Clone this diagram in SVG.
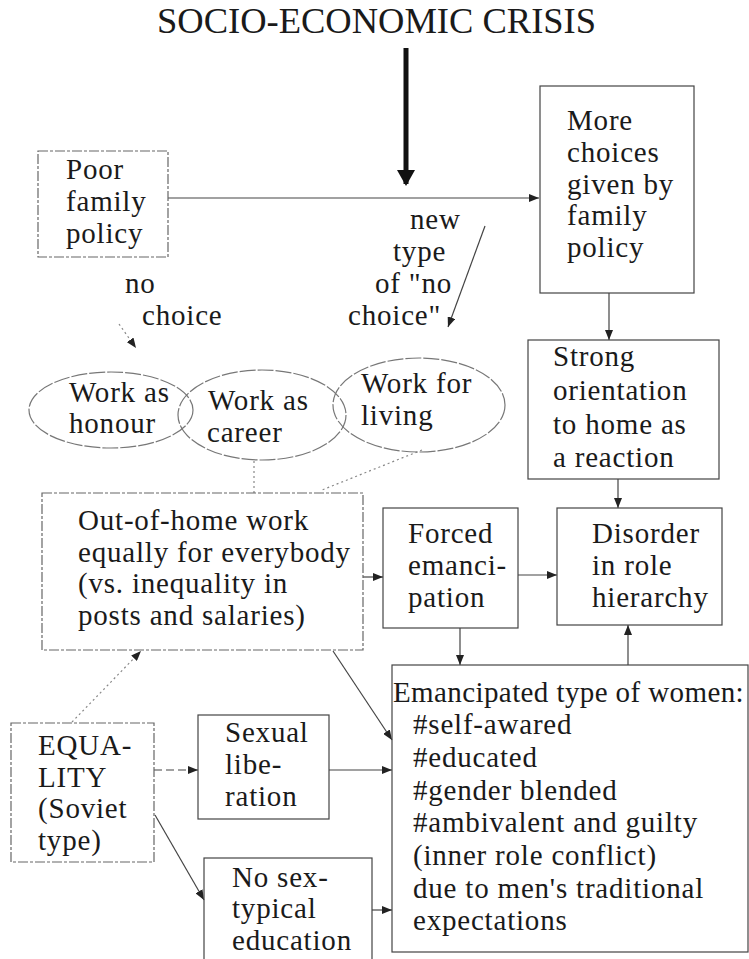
<svg xmlns="http://www.w3.org/2000/svg" width="749" height="959" viewBox="0 0 749 959">
<style>
text{font-family:"Liberation Serif","Times New Roman",serif;font-size:29px;letter-spacing:0.8px;fill:#1a1a1a}
.title{font-size:36.5px;letter-spacing:0}
.tight{letter-spacing:0.4px}
.box{fill:none;stroke:#444;stroke-width:1.2}
.dbox{fill:none;stroke:#666;stroke-width:1.2;stroke-dasharray:10 2 3 2}
.ell{fill:none;stroke:#777;stroke-width:1.2;stroke-dasharray:16 2}
.c{fill:none;stroke:#444;stroke-width:1.2}
.dc{fill:none;stroke:#888;stroke-width:1.2;stroke-dasharray:2 3}
.thick{fill:none;stroke:#111;stroke-width:5}
</style>
<defs>
<marker id="ah" markerUnits="userSpaceOnUse" markerWidth="10" markerHeight="8" refX="10" refY="4" orient="auto">
<path d="M0,0 L10,4 L0,8 z" fill="#222"/>
</marker>
<marker id="ahb" markerUnits="userSpaceOnUse" markerWidth="16" markerHeight="18" refX="14" refY="9" orient="auto">
<path d="M0,0 L16,9 L0,18 z" fill="#111"/>
</marker>
</defs>

<text class="title" x="157" y="33">SOCIO-ECONOMIC CRISIS</text>

<g id="connectors">
<line class="thick" x1="406" y1="48" x2="406" y2="184" marker-end="url(#ahb)"/>
<line class="c" x1="168" y1="198" x2="539" y2="198" marker-end="url(#ah)"/>
<line class="c" x1="485" y1="226" x2="448" y2="327" marker-end="url(#ah)"/>
<line class="dc" x1="119" y1="324" x2="136" y2="348" marker-end="url(#ah)"/>
<line class="c" x1="609" y1="293" x2="609" y2="340" marker-end="url(#ah)"/>
<line class="c" x1="618" y1="479" x2="618" y2="508" marker-end="url(#ah)"/>
<line class="c" x1="518" y1="575" x2="557" y2="575" marker-end="url(#ah)"/>
<line class="c" x1="363" y1="577" x2="383" y2="577" marker-end="url(#ah)"/>
<line class="c" x1="460" y1="628" x2="460" y2="665" marker-end="url(#ah)"/>
<line class="c" x1="628" y1="665" x2="628" y2="625" marker-end="url(#ah)"/>
<line class="c" x1="333" y1="651" x2="392" y2="740" marker-end="url(#ah)"/>
<line class="dc" x1="72" y1="722" x2="141" y2="651" marker-end="url(#ah)"/>
<line class="c" x1="154" y1="770" x2="198" y2="770" stroke-dasharray="8 4" marker-end="url(#ah)"/>
<line class="c" x1="329" y1="770" x2="392" y2="770" marker-end="url(#ah)"/>
<line class="c" x1="155" y1="815" x2="204" y2="900" marker-end="url(#ah)"/>
<line class="c" x1="372" y1="910" x2="392" y2="910" marker-end="url(#ah)"/>
<line class="dc" x1="254" y1="461" x2="254" y2="493"/>
<line class="dc" x1="422" y1="450" x2="322" y2="490"/>
</g>

<g id="poor">
<rect class="dbox" x="38" y="151" width="130" height="106"/>
<text x="66" y="179">Poor</text>
<text x="66" y="211">family</text>
<text x="66" y="243">policy</text>
</g>

<g id="label-new">
<text x="410" y="229">new</text>
<text x="393" y="261">type</text>
<text x="375" y="293">of "no</text>
<text x="348" y="325">choice"</text>
</g>

<g id="label-no">
<text x="125" y="293">no</text>
<text x="142" y="325">choice</text>
</g>

<g id="more">
<rect class="box" x="540" y="86" width="154" height="207"/>
<text x="567" y="130">More</text>
<text x="567" y="162">choices</text>
<text x="567" y="194">given by</text>
<text x="567" y="225">family</text>
<text x="567" y="257">policy</text>
</g>

<g id="honour">
<ellipse class="ell" cx="111" cy="410" rx="82" ry="38"/>
<text x="69" y="402">Work as</text>
<text x="69" y="433">honour</text>
</g>
<g id="career">
<ellipse class="ell" cx="262" cy="415" rx="84" ry="45"/>
<text x="208" y="410">Work as</text>
<text x="207" y="442">career</text>
</g>
<g id="living">
<ellipse class="ell" cx="419" cy="405" rx="86" ry="47"/>
<text x="361" y="393">Work for</text>
<text x="361" y="425">living</text>
</g>

<g id="strong">
<rect class="box" x="528" y="340" width="191" height="139"/>
<text x="553" y="366">Strong</text>
<text x="553" y="400">orientation</text>
<text x="553" y="434">to home as</text>
<text x="553" y="467">a reaction</text>
</g>

<g id="out">
<rect class="dbox" x="42" y="493" width="321" height="157"/>
<text x="78" y="530">Out-of-home work</text>
<text x="78" y="562">equally for everybody</text>
<text x="78" y="593">(vs. inequality in</text>
<text x="78" y="625">posts and salaries)</text>
</g>

<g id="forced">
<rect class="box" x="383" y="508" width="135" height="120"/>
<text x="408" y="543">Forced</text>
<text x="408" y="575">emanci-</text>
<text x="408" y="607">pation</text>
</g>

<g id="disorder">
<rect class="box" x="557" y="508" width="165" height="117"/>
<text x="592" y="543">Disorder</text>
<text x="592" y="575">in role</text>
<text x="592" y="607">hierarchy</text>
</g>

<g id="emancipated">
<rect class="box" x="392" y="665" width="356" height="287"/>
<text class="tight" x="393" y="702">Emancipated type of women:</text>
<text x="413" y="734">#self-awared</text>
<text x="413" y="767">#educated</text>
<text x="413" y="800">#gender blended</text>
<text x="413" y="832">#ambivalent and guilty</text>
<text x="413" y="865">(inner role conflict)</text>
<text x="413" y="898">due to men's traditional</text>
<text x="413" y="930">expectations</text>
</g>

<g id="equality">
<rect class="dbox" x="11" y="723" width="143" height="139"/>
<text x="38" y="755">EQUA-</text>
<text x="38" y="787">LITY</text>
<text x="38" y="818">(Soviet</text>
<text x="38" y="850">type)</text>
</g>

<g id="sexual">
<rect class="box" x="198" y="715" width="131" height="104"/>
<text x="225" y="742">Sexual</text>
<text x="225" y="774">libe-</text>
<text x="225" y="806">ration</text>
</g>

<g id="nosex">
<rect class="box" x="204" y="858" width="168" height="110"/>
<text x="232" y="887">No sex-</text>
<text x="232" y="918">typical</text>
<text x="232" y="950">education</text>
</g>
</svg>
